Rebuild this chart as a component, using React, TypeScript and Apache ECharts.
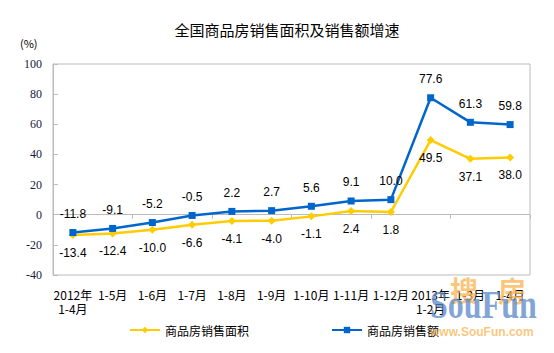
import React, { useEffect, useRef } from "react";
import * as echarts from "echarts";

const categories = [
  "2012年\n1-4月", "1-5月", "1-6月", "1-7月", "1-8月", "1-9月",
  "1-10月", "1-11月", "1-12月", "2013年\n1-2月", "1-3月", "1-4月",
];
const areaGrowth = [-13.4, -12.4, -10.0, -6.6, -4.1, -4.0, -1.1, 2.4, 1.8, 49.5, 37.1, 38.0];
const salesGrowth = [-11.8, -9.1, -5.2, -0.5, 2.2, 2.7, 5.6, 9.1, 10.0, 77.6, 61.3, 59.8];
const seriesNames = ["商品房销售面积", "商品房销售额"];
const title = "全国商品房销售面积及销售额增速";

export default function App() {
  const ref = useRef<HTMLDivElement>(null);
  useEffect(() => {
    if (!ref.current) return;
    const chart = echarts.init(ref.current, null, { renderer: "svg" });
    const labelFont = { fontFamily: "Liberation Sans, Arial, sans-serif", fontSize: 12, color: "#000" };
    const orange = "rgba(250,180,80,0.75)";
    const blueWm = "rgba(90,135,200,0.75)";
    chart.setOption({
      animation: false,
      backgroundColor: "#fff",
      title: {
        text: title,
        left: 282,
        textAlign: "center",
        top: 17,
        textStyle: { fontSize: 15, fontWeight: "normal", color: "#000", fontFamily: "Noto Sans CJK SC, sans-serif" },
      },
      graphic: [
        { type: "text", left: 20, top: 37, style: { text: "(%)", fontSize: 11, fill: "#000", fontFamily: "Noto Sans CJK SC, sans-serif" } },
        { type: "text", x: 450, y: 276, z: 10, style: { text: "搜", fontSize: 28, fontWeight: "bold", fill: orange, fontFamily: "Noto Sans CJK SC, sans-serif" } },
        { type: "text", x: 498, y: 276, z: 10, style: { text: "房", fontSize: 28, fontWeight: "bold", fill: orange, fontFamily: "Noto Sans CJK SC, sans-serif" } },
        { type: "text", x: 430, y: 285, scaleX: 0.8, z: 10, style: { text: "SouFun", fontSize: 40, fontWeight: "bold", fill: blueWm, fontFamily: "Liberation Serif, serif" } },
        { type: "text", x: 430, y: 326, z: 10, style: { text: "www.SouFun.com", fontSize: 12, fontWeight: "bold", fill: orange, fontFamily: "Liberation Sans, Arial, sans-serif" } },
      ],
      legend: {
        bottom: 12,
        left: 124,
        itemWidth: 30,
        itemHeight: 8,
        itemGap: 82,
        textStyle: { fontSize: 12, color: "#000", fontFamily: "Noto Sans CJK SC, sans-serif" },
        data: seriesNames,
      },
      grid: { left: 53, right: 24, top: 64, bottom: 78, show: true, borderColor: "#bbb", borderWidth: 1 },
      xAxis: [
        {
          type: "category",
          data: categories,
          boundaryGap: true,
          position: "bottom",
          axisLine: { show: false, onZero: false },
          axisTick: { show: false },
          axisLabel: { interval: 0, fontSize: 12, color: "#000", margin: 12, lineHeight: 14, fontFamily: "Noto Sans CJK SC, sans-serif" },
        },
        {
          type: "category",
          data: categories,
          boundaryGap: true,
          position: "bottom",
          axisLine: { show: true, onZero: true, lineStyle: { color: "#bbb" } },
          axisTick: { show: true, length: 4, lineStyle: { color: "#bbb" } },
          axisLabel: { show: false },
        },
      ],
      yAxis: {
        type: "value",
        min: -40,
        max: 100,
        interval: 20,
        splitLine: { show: false },
        axisLine: { show: true, lineStyle: { color: "#bbb" } },
        axisTick: { show: true, inside: true, length: 5, lineStyle: { color: "#bbb" } },
        axisLabel: { fontSize: 12, color: "#1a1a40", margin: 11, fontFamily: "Liberation Serif, Times New Roman, serif" },
      },
      series: [
        {
          name: seriesNames[0],
          type: "line",
          data: areaGrowth,
          color: "#FFCC00",
          symbol: "diamond",
          symbolSize: 8,
          lineStyle: { width: 2.5, color: "#FFCC00" },
          itemStyle: { color: "#FFCC00" },
          label: { show: true, position: "bottom", distance: 8, ...labelFont, formatter: (p: any) => p.value.toFixed(1) },
          z: 3,
        },
        {
          name: seriesNames[1],
          type: "line",
          data: salesGrowth,
          color: "#0066CC",
          symbol: "rect",
          symbolSize: 7,
          lineStyle: { width: 2.5, color: "#0066CC" },
          itemStyle: { color: "#0066CC" },
          label: { show: true, position: "top", distance: 9, ...labelFont, formatter: (p: any) => p.value.toFixed(1) },
          z: 4,
        },
      ],
    });
    return () => chart.dispose();
  }, []);
  return <div ref={ref} style={{ width: 554, height: 353, position: "absolute", left: 0, top: 0 }} />;
}
